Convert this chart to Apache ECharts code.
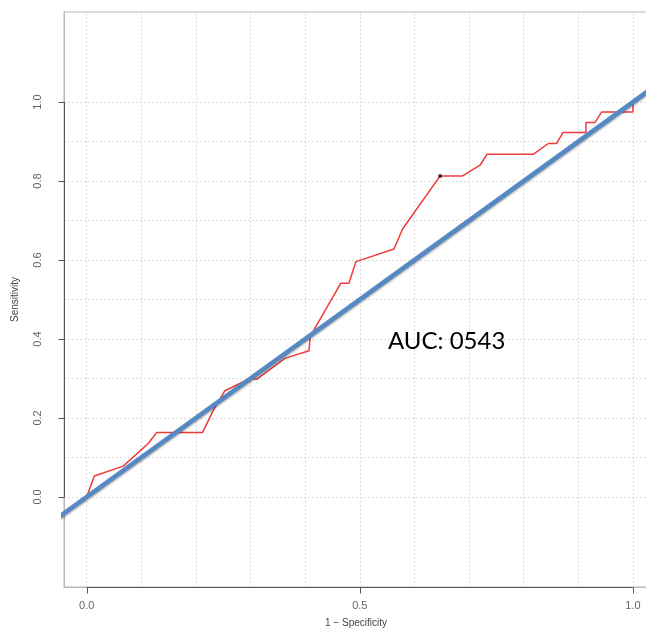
<!DOCTYPE html>
<html>
<head>
<meta charset="utf-8">
<script src="https://cdn.jsdelivr.net/npm/echarts@6/dist/echarts.min.js"></script>
<style>
html,body{margin:0;padding:0;background:#fff;}
#chart{width:646px;height:631px;}
</style>
</head>
<body>
<div id="chart"></div>
<script>
// ROC curve points (1 - specificity, sensitivity)
const fpr = [0, 0.014, 0.067, 0.113, 0.128, 0.212, 0.232, 0.253, 0.299, 0.311, 0.363, 0.407, 0.409, 0.465, 0.48, 0.493, 0.5625, 0.578, 0.647, 0.688, 0.72, 0.733, 0.818, 0.845, 0.86, 0.872, 0.914, 0.914, 0.93, 0.943, 1.0, 1.0];
const tpr = [0, 0.053, 0.078, 0.136, 0.163, 0.163, 0.22, 0.269, 0.3, 0.298, 0.351, 0.37, 0.406, 0.541, 0.541, 0.596, 0.628, 0.678, 0.813, 0.813, 0.84, 0.868, 0.868, 0.895, 0.895, 0.923, 0.923, 0.948, 0.948, 0.975, 0.975, 1.0];
// reference diagonal (y = x)
const diagX = [-0.1, 1.1];
const diagY = [-0.1, 1.1];
// highlighted point
const markX = [0.647];
const markY = [0.813];
// tick labels
const xTicks = [0, 0.5, 1.0];
const yTicks = [0, 0.2, 0.4, 0.6, 0.8, 1.0];
// grid lines
const gridX = [0, 0.1, 0.2, 0.3, 0.4, 0.5, 0.6, 0.7, 0.8, 0.9, 1.0];
const gridY = [0, 0.1, 0.2, 0.3, 0.4, 0.5, 0.6, 0.7, 0.8, 0.9, 1.0];
const aucText = 'AUC: 0543';

const X_MIN = -0.0415, X_MAX = 1.0275, Y_MIN = -0.228, Y_MAX = 1.228;
const TICK_PX = 6;

const chart = echarts.init(document.getElementById('chart'), null, {renderer: 'canvas'});
const fmt = v => v.toFixed(1);

const gridLines = [];
gridX.forEach(v => gridLines.push({xAxis: v}));
gridY.forEach(v => gridLines.push({yAxis: v}));

const option = {
  animation: false,
  backgroundColor: '#fff',
  grid: {left: 64, right: -2, top: 12, bottom: 44, show: true, borderColor: '#b8b8b8', borderWidth: 1,
         backgroundColor: 'transparent', outerBoundsMode: 'none', containLabel: false},
  xAxis: {
    type: 'value', min: X_MIN, max: X_MAX,
    axisLine: {show: true, onZero: false, lineStyle: {color: '#b8b8b8', width: 1}},
    splitLine: {show: false},
    axisTick: {show: false},
    axisLabel: {customValues: xTicks, formatter: fmt, color: '#666', fontSize: 11, fontFamily: 'Liberation Sans', margin: 13},
    name: '1 \u2212 Specificity', nameLocation: 'middle', nameGap: 31,
    nameTextStyle: {color: '#444', fontSize: 10, fontFamily: 'Liberation Sans'}
  },
  yAxis: {
    type: 'value', min: Y_MIN, max: Y_MAX,
    axisLine: {show: true, onZero: false, lineStyle: {color: '#b8b8b8', width: 1}},
    splitLine: {show: false},
    axisTick: {show: false},
    axisLabel: {customValues: yTicks, formatter: fmt, color: '#666', fontSize: 11, fontFamily: 'Liberation Sans', rotate: 90, margin: 21},
    name: 'Sensitivity', nameLocation: 'middle', nameGap: 44,
    nameTextStyle: {color: '#444', fontSize: 10, fontFamily: 'Liberation Sans'}
  },
  series: [
    {
      type: 'line', data: [], silent: true, z: 0,
      markLine: {
        silent: true, symbol: 'none', animation: false, z: 0,
        label: {show: false},
        lineStyle: {color: '#dcdcdc', type: [2, 2], width: 1},
        data: gridLines
      }
    },
    {
      type: 'line', data: [], silent: true, z: 1
    },
    {
      type: 'line', silent: true, symbol: 'none', z: 3,
      data: fpr.map((x, i) => [x, tpr[i]]),
      lineStyle: {color: '#f03a3a', width: 1.5}
    },
    {
      type: 'line', silent: true, symbol: 'none', z: 4,
      data: diagX.map((x, i) => [x, diagY[i]]),
      lineStyle: {color: '#5589c3', width: 4.5, shadowColor: 'rgba(0,0,0,0.35)', shadowBlur: 2, shadowOffsetY: 1.5}
    },
    {
      type: 'scatter', silent: true, symbolSize: 4, z: 5,
      data: markX.map((x, i) => [x, markY[i]]),
      itemStyle: {color: '#111'}
    }
  ],
  graphic: [{
    type: 'text', left: 388, top: 329,
    style: {text: aucText, fill: '#000', font: '24px Lato'}
  }]
};
chart.setOption(option);

// axis lines (first to last tick) and outward ticks, placed via the axes' own scales
function drawAxisDecor() {
  const gridRect = chart.getModel().getComponent('grid').coordinateSystem.getRect();
  const els = [];
  const style = {stroke: '#555', lineWidth: 1};
  const left = Math.round(gridRect.x) + 0.5;
  const bottom = Math.round(gridRect.y + gridRect.height) + 0.5;
  const ya = chart.convertToPixel({gridIndex: 0}, [X_MIN, yTicks[0]])[1];
  const yb = chart.convertToPixel({gridIndex: 0}, [X_MIN, yTicks[yTicks.length - 1]])[1];
  els.push({type: 'line', shape: {x1: left, y1: ya, x2: left, y2: yb}, style, z: 10, silent: true});
  yTicks.forEach(v => {
    const py = Math.round(chart.convertToPixel({gridIndex: 0}, [X_MIN, v])[1]) + 0.5;
    els.push({type: 'line', shape: {x1: left - TICK_PX, y1: py, x2: left, y2: py}, style, z: 10, silent: true});
  });
  const xa = chart.convertToPixel({gridIndex: 0}, [xTicks[0], Y_MIN])[0];
  const xb = chart.convertToPixel({gridIndex: 0}, [xTicks[xTicks.length - 1], Y_MIN])[0];
  els.push({type: 'line', shape: {x1: xa, y1: bottom, x2: xb, y2: bottom}, style, z: 10, silent: true});
  xTicks.forEach(v => {
    const px = Math.round(chart.convertToPixel({gridIndex: 0}, [v, Y_MIN])[0]) + 0.5;
    els.push({type: 'line', shape: {x1: px, y1: bottom, x2: px, y2: bottom + TICK_PX}, style, z: 10, silent: true});
  });
  els.push(option.graphic[0]);
  chart.setOption({graphic: els}, {replaceMerge: ['graphic']});
}
drawAxisDecor();
</script>
</body>
</html>
